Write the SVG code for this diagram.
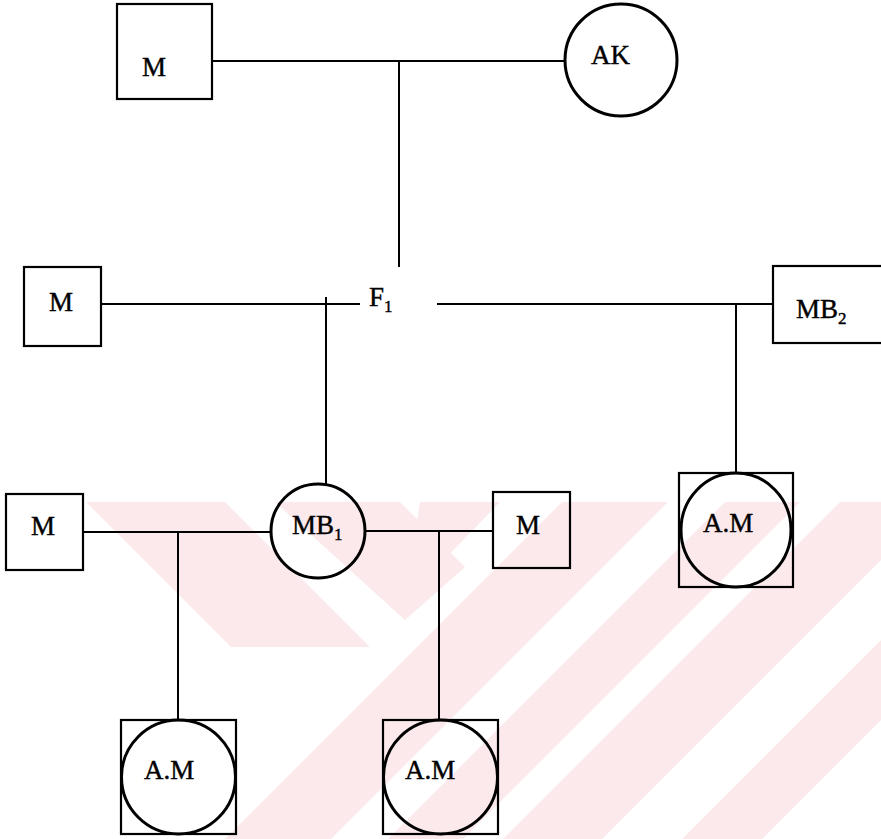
<svg xmlns="http://www.w3.org/2000/svg" width="881" height="839" viewBox="0 0 881 839">
<style>
.box{fill:none;stroke:#000;stroke-width:2.2}
.circ{fill:none;stroke:#000;stroke-width:3}
.ln{fill:none;stroke:#000;stroke-width:2}
text{font-family:"Liberation Serif","Times New Roman",serif;font-size:27px;fill:#000;stroke:#000;stroke-width:0.4}
.sub{font-size:17px}
.wm{fill:#fce9eb}
</style>
<defs>
<clipPath id="wmclip"><rect x="86" y="502" width="795" height="337"/></clipPath>
</defs>
<rect width="881" height="839" fill="#fff"/>
<g id="watermark" clip-path="url(#wmclip)">
<polygon class="wm" points="86,502 225,502 370,647 231,647"/>
<polygon class="wm" points="275,502 400,502 465,567 405,620"/>
<polygon class="wm" points="420,502 500,502 405,600"/>
<polygon class="wm" points="562,502 668,502 331,839 225,839"/>
<polygon class="wm" points="725,502 800,502 463,839 388,839"/>
<polygon class="wm" points="840,502 881,502 881,560 602,839 503,839"/>
<polygon class="wm" points="881,640 881,720 762,839 682,839"/>
</g>
<g id="connectors">
<path class="ln" d="M212,61 H565"/>
<path class="ln" d="M399,61 V267"/>
<path class="ln" d="M101,304 H360"/>
<path class="ln" d="M437,304 H773"/>
<path class="ln" d="M326,297 V484"/>
<path class="ln" d="M736,304 V473"/>
<path class="ln" d="M83,532 H271"/>
<path class="ln" d="M178,532 V720"/>
<path class="ln" d="M365,531 H493"/>
<path class="ln" d="M439,531 V720"/>
</g>
<g id="m-top"><rect class="box" x="117" y="4" width="95" height="95"/><text x="142" y="76">M</text></g>
<g id="ak"><circle class="circ" cx="621" cy="60" r="56"/><text x="591" y="64">AK</text></g>
<g id="m-row2"><rect class="box" x="24" y="267" width="77" height="79"/><text x="49" y="311">M</text></g>
<g id="f1"><text x="369" y="306">F<tspan class="sub" dy="6">1</tspan></text></g>
<g id="mb2"><rect class="box" x="773" y="266" width="120" height="77"/><text x="796" y="318">MB<tspan class="sub" dy="6">2</tspan></text></g>
<g id="m-row3-left"><rect class="box" x="6" y="494" width="77" height="76"/><text x="31" y="535">M</text></g>
<g id="mb1"><circle class="circ" cx="318" cy="531" r="47"/><text x="292" y="534">MB<tspan class="sub" dy="6">1</tspan></text></g>
<g id="m-row3-right"><rect class="box" x="493" y="492" width="77" height="76"/><text x="516" y="534">M</text></g>
<g id="am-right"><rect class="box" x="679" y="473" width="114" height="114"/><ellipse class="circ" cx="736" cy="530" rx="55" ry="57"/><text x="703" y="532">A.M</text></g>
<g id="am-left"><rect class="box" x="121" y="720" width="115" height="114"/><circle class="circ" cx="178.5" cy="777" r="57"/><text x="144" y="779">A.M</text></g>
<g id="am-mid"><rect class="box" x="383" y="720" width="115" height="114"/><circle class="circ" cx="440.5" cy="777" r="57"/><text x="405" y="779">A.M</text></g>
</svg>
